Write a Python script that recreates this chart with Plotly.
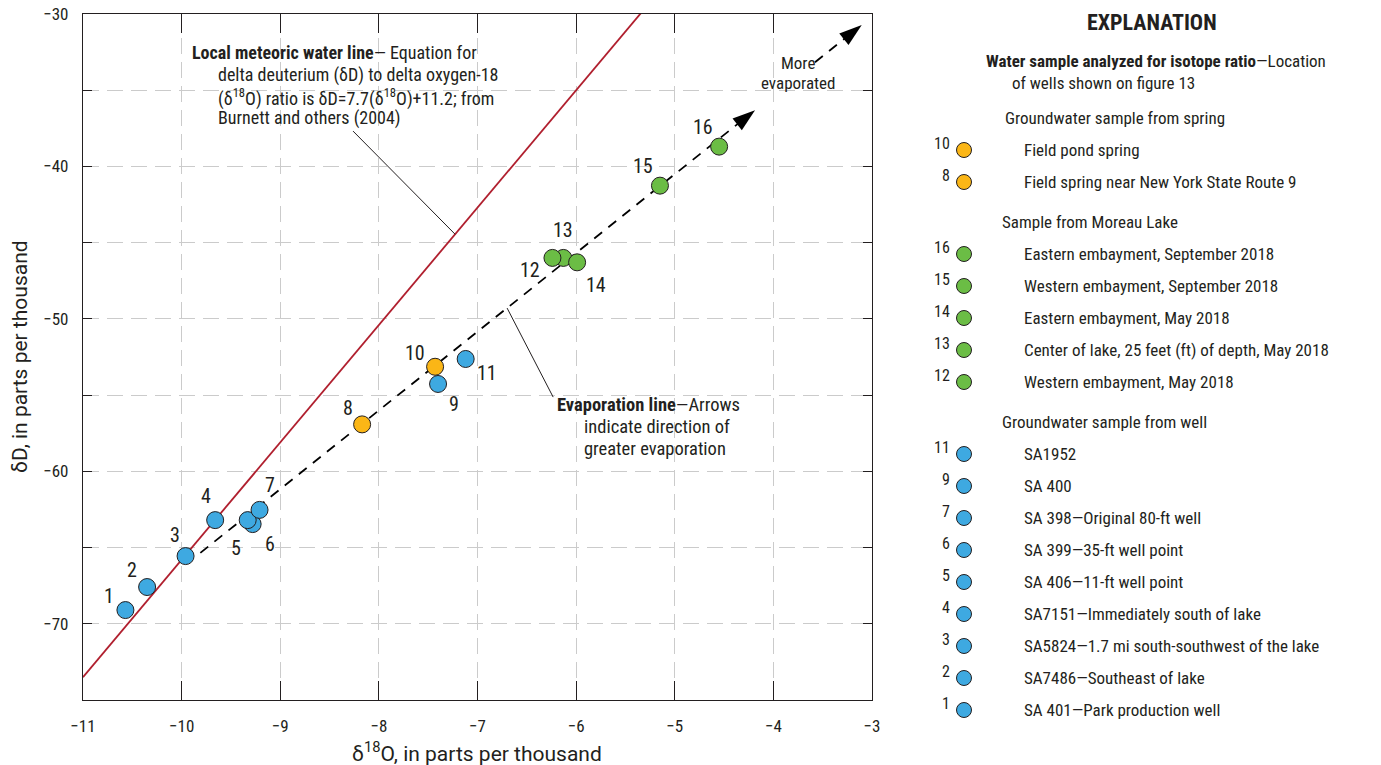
import plotly.graph_objects as go

# ---------------- data: stable-isotope ratios, parts per thousand ----------------
sample_id = [1, 2, 3, 4, 5, 6, 7, 8, 9, 10, 11, 12, 13, 14, 15, 16]
d18o = [-10.57, -10.35, -9.96, -9.66, -9.33, -9.28, -9.21, -8.17,
        -7.40, -7.43, -7.12, -6.24, -6.13, -5.99, -5.15, -4.55]
dd = [-69.10, -67.59, -65.56, -63.20, -63.20, -63.46, -62.53, -56.92,
      -54.27, -53.14, -52.63, -46.00, -46.00, -46.29, -41.26, -38.70]
source = ["well", "well", "well", "well", "well", "well", "well", "spring",
          "well", "spring", "well", "lake", "lake", "lake", "lake", "lake"]

# local meteoric water line: dD = 7.7 * d18O + 11.2 (Burnett and others, 2004)
mwl_slope, mwl_intercept = 7.7, 11.2
mwl_x = [-11.0, -3.0]

# evaporation line through the samples (two dashed runs, each ending in an arrow)
evap_slope, evap_intercept = 5.164, -14.69
evap_run1_x = [-9.81, -4.186]
evap_run2_x = [-3.578, -3.104]

# explanation entries
spring_ids = [10, 8]
spring_desc = ["Field pond spring", "Field spring near New York State Route 9"]
lake_ids = [16, 15, 14, 13, 12]
lake_desc = ["Eastern embayment, September 2018",
             "Western embayment, September 2018",
             "Eastern embayment, May 2018",
             "Center of lake, 25 feet (ft) of depth, May 2018",
             "Western embayment, May 2018"]
well_ids = [11, 9, 7, 6, 5, 4, 3, 2, 1]
well_desc = ["SA1952", "SA 400", "SA 398\u2014Original 80-ft well",
             "SA 399\u201435-ft well point", "SA 406\u201411-ft well point",
             "SA7151\u2014Immediately south of lake",
             "SA5824\u20141.7 mi south-southwest of the lake",
             "SA7486\u2014Southeast of lake", "SA 401\u2014Park production well"]

# ---------------- styling ----------------
W, H = 1381, 765
PX_L, PX_R, PX_T, PX_B = 83, 872, 14, 700
FONT = "Liberation Sans Narrow, Arial Narrow, Roboto Condensed, DejaVu Sans Condensed, sans-serif"
TITLE_FONT = "Roboto, Liberation Sans, Arial, sans-serif"
INK = "#231f20"
GRID = "#cbcbcb"
COLOR = {"spring": "#fbb616", "lake": "#6bbd45", "well": "#3ea9e1"}
RED = "#b01f2e"

# draw order inside each group so overlapping circles stack as intended
draw_order = {"spring": [8, 10], "lake": [13, 12, 14, 15, 16],
              "well": [1, 2, 3, 4, 6, 5, 7, 9, 11]}

# label offsets (px, right / up) for the sample numbers
label_shift = {1: (-16, 14), 2: (-15, 17), 3: (-11, 21), 4: (-9, 24), 5: (-12, -28),
               6: (17, -20), 7: (10, 25), 8: (-14, 16), 9: (16, -20), 10: (-20, 14),
               11: (21, -14), 12: (-22, -12), 13: (0, 28), 14: (19, -23), 15: (-17, 20),
               16: (-16, 20)}

fig = go.Figure()

# meteoric water line
fig.add_trace(go.Scatter(
    x=mwl_x, y=[mwl_slope * v + mwl_intercept for v in mwl_x],
    mode="lines", line=dict(color=RED, width=1.8), hoverinfo="skip", showlegend=False))

# evaporation line, dashed with arrowheads
for run in (evap_run1_x, evap_run2_x):
    fig.add_trace(go.Scatter(
        x=run, y=[evap_slope * v + evap_intercept for v in run],
        mode="lines+markers",
        line=dict(color="black", width=1.8, dash="10px,8px"),
        marker=dict(symbol="arrow", size=[0, 24], angleref="previous", color="black",
                    opacity=1, line=dict(width=0)),
        hoverinfo="skip", showlegend=False, cliponaxis=False))

# sample points
idx = {s: i for i, s in enumerate(sample_id)}
for grp in ("spring", "lake", "well"):
    ids = [s for s in draw_order[grp] if source[idx[s]] == grp]
    fig.add_trace(go.Scatter(
        x=[d18o[idx[s]] for s in ids], y=[dd[idx[s]] for s in ids],
        mode="markers", text=[str(s) for s in ids],
        marker=dict(size=17, color=COLOR[grp], line=dict(color=INK, width=1)),
        showlegend=False, cliponaxis=False))

annotations = []
for s in sample_id:
    dx, dy = label_shift[s]
    annotations.append(dict(
        x=d18o[idx[s]], y=dd[idx[s]], xref="x", yref="y", text=str(s),
        showarrow=False, xshift=dx, yshift=dy,
        font=dict(family=FONT, size=20, color=INK)))

# leader lines from the callouts to the lines they describe
mwl_touch = -7.227
evap_touch = -6.70
shapes = [
    dict(type="line", xref="x", yref="y", x0=-8.262, y0=-37.68,
         x1=mwl_touch, y1=mwl_slope * mwl_touch + mwl_intercept,
         line=dict(color=INK, width=1)),
    dict(type="line", xref="x", yref="y", x0=-6.233, y0=-55.13,
         x1=evap_touch, y1=evap_slope * evap_touch + evap_intercept,
         line=dict(color=INK, width=1)),
]


def txt(px, py, text, size=17, anchor="left", bold=False, angle=0, family=FONT):
    annotations.append(dict(
        x=px, y=py, xref="x2", yref="y2", text=f"<b>{text}</b>" if bold else text,
        showarrow=False, xanchor=anchor, yanchor="middle", textangle=angle,
        font=dict(family=family, size=size, color=INK)))


# callout text inside the plot
txt(190, 52, "<b>Local meteoric water line</b>\u2014 Equation for", size=18)
txt(216, 75, "delta deuterium (\u03b4D) to delta oxygen-18", size=18)
txt(216, 97, "(\u03b4<sup>18</sup>O) ratio is \u03b4D=7.7(\u03b4<sup>18</sup>O)+11.2; from", size=18)
txt(216, 118, "Burnett and others (2004)", size=18)
txt(555, 405, "<b>Evaporation line</b>\u2014Arrows", size=18.5)
txt(582, 427, "indicate direction of", size=18.5)
txt(582, 449, "greater evaporation", size=18.5)
txt(798, 63, "More", anchor="center", size=17)
txt(798, 83, "evaporated", anchor="center", size=17)

# axis titles
txt(477, 752, "\u03b4<sup>18</sup>O, in parts per thousand", size=21, anchor="center",
    family=TITLE_FONT)
txt(20, 357, "\u03b4D, in parts per thousand", size=21, anchor="center", angle=-90,
    family=TITLE_FONT)

# explanation
txt(1152, 22, "EXPLANATION", size=22, anchor="center", bold=True)
txt(984, 61, "<b>Water sample analyzed for isotope ratio</b>\u2014Location")
txt(1010, 83, "of wells shown on figure 13")

LEG_X, NUM_X, DESC_X = 964, 952, 1022
ROW, GAP = 32, 40
groups = [("Groundwater sample from spring", 1003, "spring", spring_ids, spring_desc),
          ("Sample from Moreau Lake", 1000, "lake", lake_ids, lake_desc),
          ("Groundwater sample from well", 1000, "well", well_ids, well_desc)]
cursor = 118
for title, tx, grp, ids, descs in groups:
    txt(tx, cursor, title)
    ys = []
    for s, d in zip(ids, descs):
        cursor += ROW
        ys.append(cursor)
        txt(DESC_X, cursor, d)
        txt(NUM_X, cursor - 7, str(s), size=16, anchor="right")
    fig.add_trace(go.Scatter(
        x=[LEG_X] * len(ys), y=ys, xaxis="x2", yaxis="y2", mode="markers",
        marker=dict(size=15, color=COLOR[grp], line=dict(color=INK, width=1)),
        hoverinfo="skip", showlegend=False, cliponaxis=False))
    cursor += GAP

tick_font = dict(family=FONT, size=17, color=INK)
fig.update_layout(
    width=W, height=H, margin=dict(l=0, r=0, t=0, b=0, pad=0, autoexpand=False),
    paper_bgcolor="white", plot_bgcolor="rgba(0,0,0,0)",
    showlegend=False, annotations=annotations, shapes=shapes,
    xaxis=dict(domain=[PX_L / W, PX_R / W], range=[-11, -3], tick0=-11, dtick=1,
               ticks="inside", ticklen=19, tickwidth=1.2, tickcolor=INK,
               showline=True, linecolor=INK, linewidth=1.3, mirror="ticks",
               showgrid=True, gridcolor=GRID, gridwidth=1.3, griddash="16px,8px",
               zeroline=False, tickfont=tick_font, ticklabelstandoff=10,
               automargin=False, anchor="y"),
    yaxis=dict(domain=[1 - PX_B / H, 1 - PX_T / H], range=[-75, -30], tick0=-30, dtick=10,
               ticks="inside", ticklen=9, tickwidth=1.2, tickcolor=INK,
               showline=True, linecolor=INK, linewidth=1.3, mirror="ticks",
               showgrid=True, gridcolor=GRID, gridwidth=1.3, griddash="16px,8px",
               minor=dict(dtick=5, tick0=-30, ticks="inside", ticklen=9, tickcolor=INK,
                          tickwidth=1.2, showgrid=True, gridcolor=GRID, gridwidth=1.3,
                          griddash="16px,8px"),
               zeroline=False, tickfont=tick_font, ticklabelstandoff=10,
               automargin=False, anchor="x"),
    xaxis2=dict(domain=[0, 1], range=[0, W], visible=False, anchor="y2",
                fixedrange=True, automargin=False),
    yaxis2=dict(domain=[0, 1], range=[H, 0], visible=False, anchor="x2",
                fixedrange=True, automargin=False),
)

fig.write_html("out.html")
